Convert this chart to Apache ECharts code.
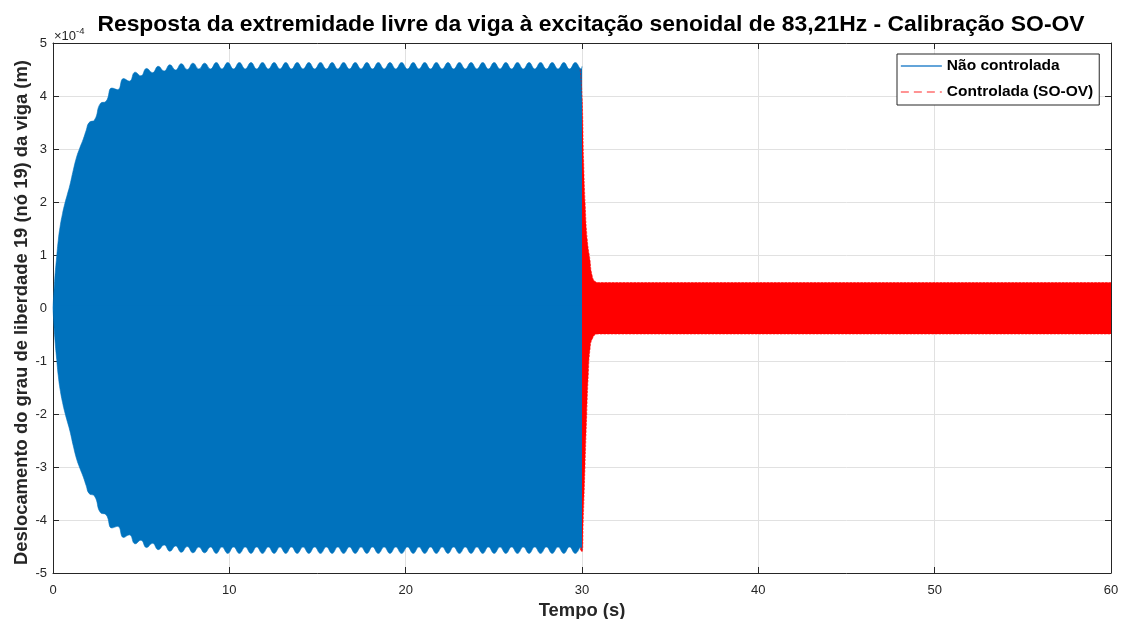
<!DOCTYPE html>
<html>
<head>
<meta charset="utf-8">
<script src="https://cdn.jsdelivr.net/npm/echarts@6/dist/echarts.min.js"></script>
<style>
  html, body { margin: 0; padding: 0; background: #ffffff; }
  #chart { width: 1121px; height: 619px; }
</style>
</head>
<body>
<div id="chart"></div>
<script>
// Envelope of the beam tip response, in units of 1e-4 m: [time (s), amplitude]
// Uncontrolled response (0 – 30 s), amplitude of the oscillation envelope (symmetric about zero)
const envNaoControlada = [
  [0.00,0.00],[0.10,0.55],[0.21,0.97],[0.30,1.28],[0.40,1.53],[0.54,1.78],[0.68,1.98],
  [0.82,2.15],[0.96,2.32],[1.15,2.60],[1.34,2.85],[1.52,3.02],[1.72,3.19],[1.88,3.35],
  [2.05,3.50],[2.36,3.55],[2.69,3.86],[3.01,3.90],[3.34,4.15],[3.67,4.12],[4.00,4.33],
  [4.33,4.28],[4.66,4.45],[4.98,4.38],[5.31,4.52],[5.64,4.44],[5.97,4.56],[6.30,4.47],
  [6.63,4.59],[6.95,4.49],[7.28,4.61],[7.61,4.50],[7.94,4.62],[8.27,4.51],[8.60,4.62],
  [8.93,4.51],[9.26,4.63],[9.58,4.51],[9.91,4.63],[10.24,4.51],[10.57,4.63],[10.90,4.51],
  [11.23,4.63],[11.55,4.51],[11.88,4.63],[12.21,4.51],[12.54,4.63],[12.87,4.51],[13.20,4.63],
  [13.52,4.51],[13.85,4.63],[14.18,4.51],[14.51,4.63],[14.84,4.51],[15.17,4.63],[15.50,4.51],
  [15.83,4.63],[16.15,4.51],[16.48,4.63],[16.81,4.51],[17.14,4.63],[17.47,4.51],[17.80,4.63],
  [18.12,4.51],[18.45,4.63],[18.78,4.51],[19.11,4.63],[19.44,4.51],[19.77,4.63],[20.10,4.51],
  [20.43,4.63],[20.75,4.51],[21.08,4.63],[21.41,4.51],[21.74,4.63],[22.07,4.51],[22.40,4.63],
  [22.72,4.51],[23.05,4.63],[23.38,4.51],[23.71,4.63],[24.04,4.51],[24.37,4.63],[24.69,4.51],
  [25.02,4.63],[25.35,4.51],[25.68,4.63],[26.01,4.51],[26.34,4.63],[26.67,4.51],[27.00,4.63],
  [27.32,4.51],[27.65,4.63],[27.98,4.51],[28.31,4.63],[28.64,4.51],[28.97,4.63],[29.29,4.51],
  [29.62,4.63],[29.95,4.51],[30.00,4.56]
];
// Controlled response (SO-OV): identical to the uncontrolled one until the controller
// is switched on at 30 s (hidden under the blue band), then the upper/lower envelopes decay
const envControladaSup = [
  [29.90,4.50],[30.00,4.02],[30.04,3.60],[30.09,2.79],[30.18,1.95],[30.30,1.28],[30.45,0.91],
  [30.55,0.65],[30.74,0.50],[31.00,0.48],[60.00,0.48]
];
const envControladaInf = [
  [29.90,-4.55],[30.00,-4.60],[30.07,-4.00],[30.17,-2.99],[30.27,-1.98],[30.36,-1.23],[30.45,-0.79],
  [30.60,-0.57],[30.91,-0.49],[60.00,-0.49]
];

const xTicks = { min: 0, max: 60, interval: 10 };
const yTicks = { min: -5, max: 5, interval: 1 };

const AZUL = '#0072BD';
const VERMELHO = '#FF0000';
const EIXO = '#262626';
const GRADE = '#e1e1e1';
const FONTE = '"Liberation Sans", Arial, Helvetica, sans-serif';

const chart = echarts.init(document.getElementById('chart'), null, { renderer: 'canvas' });

// One half of an oscillation band: filled from a baseline just past zero up to the envelope,
// so the upper and lower halves overlap slightly and leave no seam on the zero line
function banda(nome, dados, cor, tracejado, base) {
  return {
    name: nome,
    type: 'line',
    data: dados,
    symbol: 'none',
    showSymbol: false,
    smooth: 0.5,
    lineStyle: { color: cor, width: 0.6, type: tracejado ? 'dashed' : 'solid' },
    itemStyle: { color: cor },
    areaStyle: { color: cor, opacity: 1, origin: base },
    silent: true
  };
}

const option = {
  animation: false,
  backgroundColor: '#ffffff',
  textStyle: { fontFamily: FONTE },
  title: {
    text: 'Resposta da extremidade livre da viga à excitação senoidal de 83,21Hz - Calibração SO-OV',
    left: 586, top: 8,
    textAlign: 'center',
    textStyle: { fontFamily: FONTE, fontWeight: 'bold', fontSize: 22.9, color: '#000000' }
  },
  grid: { left: 53, top: 43, right: 10, bottom: 46, containLabel: false, outerBoundsMode: 'none' },
  legend: {
    orient: 'vertical',
    left: 897, top: 54,
    padding: [4, 6, 5, 3],
    itemWidth: 41, itemHeight: 14, itemGap: 10,
    backgroundColor: '#ffffff',
    borderColor: EIXO, borderWidth: 1,
    textStyle: { fontFamily: FONTE, fontWeight: 'bold', fontSize: 15.5, color: '#000000' },
    data: [
      { name: 'Não controlada', itemStyle: { opacity: 0 }, lineStyle: { color: '#2f86cc', width: 1.3, type: 'solid' } },
      { name: 'Controlada (SO-OV)', itemStyle: { opacity: 0 }, lineStyle: { color: '#ff7070', width: 1.7, type: [8, 5] } }
    ]
  },
  xAxis: [
    {
      type: 'value', position: 'bottom',
      min: xTicks.min, max: xTicks.max, interval: xTicks.interval,
      name: 'Tempo (s)', nameLocation: 'middle', nameGap: 29, nameMoveOverlap: false,
      nameTextStyle: { fontFamily: FONTE, fontWeight: 'bold', fontSize: 18.4, color: EIXO },
      axisLine: { show: true, onZero: false, lineStyle: { color: EIXO, width: 1 } },
      axisTick: { show: true, inside: true, length: 6, lineStyle: { color: EIXO } },
      axisLabel: { fontFamily: FONTE, fontSize: 13, color: EIXO, margin: 11 },
      splitLine: { show: true, lineStyle: { color: GRADE, width: 1 } }
    },
    {
      type: 'value', position: 'top',
      min: xTicks.min, max: xTicks.max, interval: xTicks.interval,
      axisLine: { show: true, onZero: false, lineStyle: { color: EIXO, width: 1 } },
      axisTick: { show: true, inside: true, length: 6, lineStyle: { color: EIXO } },
      axisLabel: { show: false },
      splitLine: { show: false }
    }
  ],
  yAxis: [
    {
      type: 'value', position: 'left',
      min: yTicks.min, max: yTicks.max, interval: yTicks.interval,
      name: 'Deslocamento do grau de liberdade 19 (nó 19) da viga (m)',
      nameLocation: 'middle', nameGap: 22, nameMoveOverlap: false,
      nameTextStyle: { fontFamily: FONTE, fontWeight: 'bold', fontSize: 18.4, color: EIXO, padding: [0, 9, 0, 0] },
      axisLine: { show: true, onZero: false, lineStyle: { color: EIXO, width: 1 } },
      axisTick: { show: true, inside: true, length: 6, lineStyle: { color: EIXO } },
      axisLabel: { fontFamily: FONTE, fontSize: 13, color: EIXO, margin: 6 },
      splitLine: { show: true, lineStyle: { color: GRADE, width: 1 } }
    },
    {
      type: 'value', position: 'right',
      min: yTicks.min, max: yTicks.max, interval: yTicks.interval,
      axisLine: { show: true, onZero: false, lineStyle: { color: EIXO, width: 1 } },
      axisTick: { show: true, inside: true, length: 6, lineStyle: { color: EIXO } },
      axisLabel: { show: false },
      splitLine: { show: false }
    }
  ],
  graphic: [
    {
      type: 'text', left: 54, top: 26, silent: true,
      style: {
        text: '{b|×10}{s|-4}',
        rich: {
          b: { fontFamily: FONTE, fontSize: 13, fill: EIXO, verticalAlign: 'bottom' },
          s: { fontFamily: FONTE, fontSize: 9.5, fill: EIXO, padding: [0, 0, 7, 0], verticalAlign: 'bottom' }
        }
      }
    }
  ],
  series: [
    // controlled response drawn first so the uncontrolled band sits on top of it
    banda('Controlada (SO-OV)', envControladaSup, VERMELHO, true, -0.05),
    banda('Controlada (SO-OV)', envControladaInf, VERMELHO, true, 0.05),
    banda('Não controlada', envNaoControlada, AZUL, false, -0.05),
    banda('Não controlada', envNaoControlada.map(([t, a]) => [t, -a]), AZUL, false, 0.05)
  ]
};

chart.setOption(option);
</script>
</body>
</html>
